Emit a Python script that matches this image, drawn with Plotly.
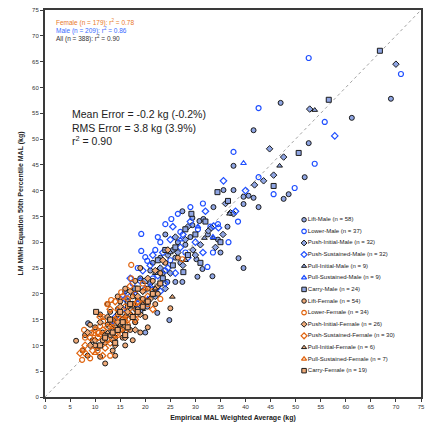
import plotly.graph_objects as go

# ---------------- data (kg) ----------------
lift_m_x = [69.0, 61.2, 52.6, 47.0, 41.6, 37.6, 51.8, 48.6, 35.6, 37.6, 39.6, 40.6, 41.6, 47.6, 39.6, 42.6, 33.6, 27.4, 29.4, 30.8,
            31.6, 29.4, 36.4, 38.6, 39.6, 30.2, 31.4, 33.4, 30.4, 24.4, 26.0, 27.4, 24.8, 8.6, 22.4, 20.4, 18.5, 21.0, 23.0, 25.5,
            26.5, 24.0, 28.0, 22.0, 19.0, 17.5, 16.0, 14.5, 27.0, 29.0, 32.5, 34.5, 21.5, 23.5, 18.0, 20.0, 26.0, 35.0]
lift_m_y = [57.8, 54.1, 49.2, 57.0, 51.7, 44.8, 42.6, 39.3, 40.1, 40.1, 38.8, 39.0, 38.6, 38.4, 37.4, 36.8, 36.8, 36.0, 34.7, 34.1,
            34.5, 33.3, 33.0, 26.9, 25.0, 26.7, 24.8, 23.4, 23.3, 22.3, 22.3, 22.3, 14.9, 14.3, 16.3, 17.5, 19.0, 24.5, 27.0, 28.5,
            30.0, 31.5, 29.5, 21.0, 23.0, 18.0, 20.5, 17.0, 26.0, 31.0, 31.5, 30.5, 26.0, 24.0, 14.5, 12.5, 27.0, 28.0]

lower_m_x = [52.6, 71.0, 55.8, 42.6, 37.6, 53.8, 42.6, 49.8, 45.6, 29.0, 25.2, 19.2, 23.0, 19.2, 20.0, 20.4, 36.6, 32.4, 16.4,
             24.0, 27.0, 30.5, 33.0, 34.5, 22.0, 25.0, 28.0, 26.5, 31.5, 21.5, 18.5, 17.5, 15.0, 24.0, 33.5, 38.5, 22.5]
lower_m_y = [65.7, 62.6, 53.3, 56.0, 47.5, 45.2, 42.6, 40.5, 39.3, 36.8, 34.5, 31.6, 30.0, 28.3, 27.1, 26.4, 30.0, 25.2, 20.2,
             33.5, 32.0, 32.5, 33.0, 33.5, 28.5, 26.5, 28.0, 35.5, 37.5, 23.0, 25.0, 22.0, 19.0, 24.5, 28.0, 34.0, 31.0]

push_i_m_x = [70.0, 52.8, 44.8, 47.6, 45.6, 43.6, 41.8, 37.0, 37.6, 32.6, 33.2, 28.0, 26.5, 24.5, 23.0, 29.5, 31.0, 21.0, 19.5,
              25.0, 27.5, 30.0, 18.0, 16.5, 22.0, 34.0, 35.5, 26.0, 20.5, 24.0, 28.5, 36.0]
push_i_m_y = [64.5, 55.8, 48.1, 46.5, 43.0, 41.9, 41.1, 35.7, 35.5, 32.2, 32.8, 30.5, 28.0, 27.5, 25.0, 28.5, 29.5, 22.0, 20.5,
              24.0, 25.5, 27.5, 17.0, 16.0, 19.5, 29.0, 31.5, 31.0, 18.5, 21.0, 33.0, 37.5]

push_s_m_x = [57.8, 35.6, 33.6, 34.6, 27.0, 25.0, 23.5, 21.0, 19.0, 17.5, 16.0, 22.5, 24.5, 28.5, 30.0, 31.5, 26.0, 20.0, 18.5,
              15.5, 14.0, 23.0, 27.5, 29.0, 32.0, 25.5, 21.5, 19.5, 17.0, 38.0, 40.0, 24.0]
push_s_m_y = [50.6, 41.9, 33.1, 32.8, 29.0, 30.5, 28.0, 25.5, 22.5, 20.5, 19.0, 23.5, 25.0, 27.0, 30.0, 28.0, 24.0, 21.0, 18.0,
              17.0, 15.5, 20.5, 31.5, 34.0, 36.0, 33.0, 27.5, 24.5, 23.0, 36.0, 40.0, 22.0]

pull_i_m_x = [53.8, 46.8, 36.8, 31.8, 33.6, 25.0, 28.0, 22.0, 19.5]
pull_i_m_y = [55.6, 44.8, 35.5, 30.8, 30.8, 28.0, 26.5, 24.0, 17.0]

pull_s_m_x = [39.6, 30.5, 27.0, 24.0, 21.0, 18.0, 20.5, 33.5, 13.5]
pull_s_m_y = [45.3, 33.0, 30.5, 26.0, 21.5, 20.0, 19.0, 31.0, 14.5]

carry_m_x = [66.8, 56.6, 50.6, 45.6, 34.4, 29.2, 27.6, 32.0, 30.0, 26.0, 24.0, 22.5, 20.0, 18.0, 16.5, 28.5, 31.0, 25.5, 23.5,
             21.5, 19.0, 35.0, 28.0, 36.5]
carry_m_y = [67.1, 57.6, 47.3, 40.9, 39.7, 35.5, 24.2, 34.0, 31.5, 29.0, 28.5, 26.5, 22.5, 21.0, 18.5, 27.5, 26.0, 25.5, 23.0,
             20.0, 16.5, 30.0, 32.5, 38.0]

lift_f_x = [6.2, 11.0, 25.0, 8.0, 9.5, 10.5, 12.0, 13.0, 14.0, 15.0, 16.0, 12.5, 11.5, 13.5, 15.5, 17.0, 18.0, 14.5, 16.5, 18.5,
            19.5, 20.5, 17.5, 15.0, 13.0, 10.0, 9.0, 7.5, 8.5, 12.0, 14.0, 16.0, 19.0, 20.0, 22.0, 21.5, 23.0, 18.0, 16.0, 14.5,
            12.5, 11.0, 22.5, 24.0, 19.0, 17.0, 15.5, 13.5, 11.5, 10.0, 14.0, 17.5, 26.5, 20.5]
lift_f_y = [10.9, 7.8, 17.2, 12.0, 11.0, 9.5, 10.5, 12.0, 13.5, 14.0, 15.5, 14.0, 12.5, 9.0, 11.5, 13.0, 14.5, 16.0, 17.5, 17.0,
            19.0, 21.0, 19.5, 18.5, 16.5, 13.5, 14.0, 9.0, 8.0, 6.5, 8.0, 10.0, 12.5, 15.5, 18.0, 22.5, 24.0, 22.5, 21.0, 19.5,
            18.0, 16.0, 20.0, 26.0, 25.0, 16.0, 13.0, 15.0, 11.0, 10.0, 11.5, 11.0, 27.0, 13.5]

lower_f_x = [17.2, 15.2, 17.2, 13.2, 12.4, 11.6, 11.6, 11.0, 7.8, 9.2, 9.8, 10.6, 8.0, 7.6, 8.0, 7.4, 14.0, 15.0, 16.0, 13.5,
             12.5, 14.5, 16.5, 18.5, 20.5, 18.0, 10.5, 9.0, 19.5, 21.5, 23.0, 16.0, 13.0, 27.4]
lower_f_y = [25.6, 20.3, 23.0, 18.8, 18.0, 15.5, 14.7, 13.7, 13.0, 12.4, 12.4, 12.4, 11.5, 9.1, 8.5, 7.2, 15.0, 16.5, 17.5, 13.0,
             11.0, 12.0, 14.0, 16.0, 18.0, 20.0, 9.0, 7.5, 22.0, 20.5, 19.0, 12.5, 8.0, 26.7]

push_i_f_x = [10.0, 12.0, 13.0, 14.5, 15.5, 16.5, 17.5, 18.5, 19.5, 20.5, 22.0, 23.5, 14.0, 16.0, 18.0, 12.5, 11.0, 9.0, 15.0,
              17.0, 21.0, 13.5, 19.0, 8.5, 24.5, 22.5]
push_i_f_y = [11.0, 12.0, 13.5, 14.5, 15.0, 16.5, 18.0, 19.5, 20.5, 23.0, 24.5, 26.5, 10.0, 11.5, 13.0, 15.5, 14.5, 10.0, 17.5,
              20.5, 19.0, 11.0, 16.0, 12.5, 28.5, 21.5]

push_s_f_x = [8.0, 9.5, 10.5, 11.5, 12.5, 13.5, 14.5, 15.5, 16.5, 17.5, 18.5, 19.5, 20.5, 12.0, 13.0, 14.0, 15.0, 16.0, 11.0,
              10.0, 13.0, 14.0, 15.5, 17.0, 9.0, 7.0, 18.0, 21.5, 11.5, 16.5]
push_s_f_y = [10.0, 9.0, 11.5, 13.0, 13.5, 14.5, 15.5, 16.0, 15.0, 16.5, 18.5, 18.0, 19.5, 9.5, 10.5, 12.0, 13.0, 14.0, 15.5,
              13.0, 17.0, 18.5, 19.5, 21.5, 11.5, 8.5, 15.0, 17.0, 8.0, 19.0]

pull_i_f_x = [25.4, 12.5, 15.0, 17.5, 19.5, 22.0]
pull_i_f_y = [19.4, 12.5, 14.0, 17.5, 18.0, 21.0]

pull_s_f_x = [11.0, 13.5, 14.5, 16.0, 18.0, 10.0, 20.0]
pull_s_f_y = [12.0, 13.5, 17.0, 15.0, 18.0, 8.5, 21.0]

carry_f_x = [10.2, 12.0, 13.5, 14.5, 15.5, 16.5, 17.5, 18.5, 19.5, 20.5, 11.0, 13.0, 15.0, 17.0, 21.5, 23.0, 14.0, 16.0, 18.5]
carry_f_y = [16.5, 11.5, 12.5, 13.0, 14.5, 13.5, 15.5, 16.5, 17.5, 18.5, 10.0, 15.0, 16.5, 18.0, 20.0, 22.0, 10.5, 12.0, 21.0]

series_names = ["Lift-Male", "Lower-Male", "Push-Initial-Male", "Push-Sustained-Male", "Pull-Initial-Male",
                "Pull-Sustained-Male", "Carry-Male", "Lift-Female", "Lower-Female", "Push-Initial-Female",
                "Push-Sustained-Female", "Pull-Initial-Female", "Pull-Sustained-Female", "Carry-Female"]
series_n = [58, 37, 32, 32, 9, 9, 24, 54, 34, 26, 30, 6, 7, 19]
series_x = [lift_m_x, lower_m_x, push_i_m_x, push_s_m_x, pull_i_m_x, pull_s_m_x, carry_m_x,
            lift_f_x, lower_f_x, push_i_f_x, push_s_f_x, pull_i_f_x, pull_s_f_x, carry_f_x]
series_y = [lift_m_y, lower_m_y, push_i_m_y, push_s_m_y, pull_i_m_y, pull_s_m_y, carry_m_y,
            lift_f_y, lower_f_y, push_i_f_y, push_s_f_y, pull_i_f_y, pull_s_f_y, carry_f_y]

x_ticks = list(range(0, 80, 5))
y_ticks = list(range(0, 80, 5))

# ---------------- styles ----------------
BLUE_FILL = "#8FA5E3"
BLUE_OPEN = "#1F4FFF"
ORANGE_FILL = "#EFAA78"
ORANGE_OPEN = "#E0640F"
OUTLINE = "#1a1a1a"
symbols = ["circle", "circle", "diamond", "diamond", "triangle-up", "triangle-up", "square"] * 2
is_open = [False, True, False, True, False, True, False] * 2
is_male = [True] * 7 + [False] * 7


def marker_for(i, size=5):
    fill = BLUE_FILL if is_male[i] else ORANGE_FILL
    opencol = BLUE_OPEN if is_male[i] else ORANGE_OPEN
    if is_open[i]:
        return dict(symbol=symbols[i] + "-open", size=size, color=opencol, line=dict(color=opencol, width=1.2))
    return dict(symbol=symbols[i], size=size, color=fill, line=dict(color=OUTLINE, width=1))


FONT = "Arial, 'Liberation Sans', sans-serif"
TICKCOL = "#333333"
fig = go.Figure()

for i in range(len(series_names)):
    fig.add_trace(go.Scatter(x=series_x[i], y=series_y[i], mode="markers", name=series_names[i],
                             marker=marker_for(i), showlegend=False))

# custom compact legend on an overlay unit axis
leg_x = 0.689
leg_y0 = 0.458
leg_step = 0.0300
for i in range(len(series_names)):
    fig.add_trace(go.Scatter(x=[leg_x], y=[leg_y0 - i * leg_step], xaxis="x2", yaxis="y2",
                             mode="markers+text", marker=marker_for(i, 4.5),
                             text=[f"{series_names[i]} (n = {series_n[i]})"], textposition="middle right",
                             textfont=dict(size=6, color="#222", family=FONT),
                             showlegend=False, cliponaxis=False, hoverinfo="skip"))

fig.add_shape(type="line", x0=0, y0=0, x1=75, y1=75, xref="x", yref="y",
              line=dict(color="#8a8a8a", width=0.8, dash="dot"), layer="below")

axis_common = dict(range=[0, 75], showgrid=False, zeroline=False,
                   showline=True, linewidth=2, linecolor="#3a3a3a", mirror=True,
                   ticks="outside", ticklen=3, tickwidth=1, tickcolor="#3a3a3a",
                   color=TICKCOL,
                   tickfont=dict(size=6, color=TICKCOL, family=FONT))

fig.update_layout(
    template="none",
    width=428, height=422,
    margin=dict(l=45, r=7, t=10, b=25),
    paper_bgcolor="white", plot_bgcolor="white",
    font=dict(family=FONT, color="#222"),
    showlegend=False,
    xaxis=dict(**axis_common, tickvals=x_ticks,
               title=dict(text="<b>Empirical MAL Weighted Average (kg)</b>", font=dict(size=7, color="#222"),
                          standoff=6)),
    yaxis=dict(**axis_common, tickvals=y_ticks,
               title=dict(text="<b>LM MMH Equation 50th Percentile MAL (kg)</b>", font=dict(size=7, color="#222"),
                          standoff=8)),
    xaxis2=dict(overlaying="x", range=[0, 1], visible=False, showticklabels=False, showgrid=False, zeroline=False),
    yaxis2=dict(overlaying="y", range=[0, 1], visible=False, showticklabels=False, showgrid=False, zeroline=False),
)

fig.add_annotation(xref="paper", yref="paper", x=0.024, y=0.967, xanchor="left", yanchor="middle",
                   text="Female (n = 179): r<sup>2</sup> = 0.78", showarrow=False,
                   font=dict(size=6.5, color="#E8782A", family=FONT))
fig.add_annotation(xref="paper", yref="paper", x=0.024, y=0.947, xanchor="left", yanchor="middle",
                   text="Male (n = 209): r<sup>2</sup> = 0.86", showarrow=False,
                   font=dict(size=6.5, color="#3A6BFF", family=FONT))
fig.add_annotation(xref="paper", yref="paper", x=0.024, y=0.927, xanchor="left", yanchor="middle",
                   text="All (n = 388): r<sup>2</sup> = 0.90", showarrow=False,
                   font=dict(size=6.5, color="#333", family=FONT))
fig.add_annotation(xref="paper", yref="paper", x=(70 - 45) / 376, y=(397 - 106) / 387, xanchor="left", yanchor="top",
                   text="Mean Error = -0.2 kg (-0.2%)<br>RMS Error = 3.8 kg (3.9%)<br>r<sup>2</sup> = 0.90",
                   showarrow=False, align="left",
                   font=dict(size=10.5, color="#222", family=FONT))

fig.write_html("out.html")
